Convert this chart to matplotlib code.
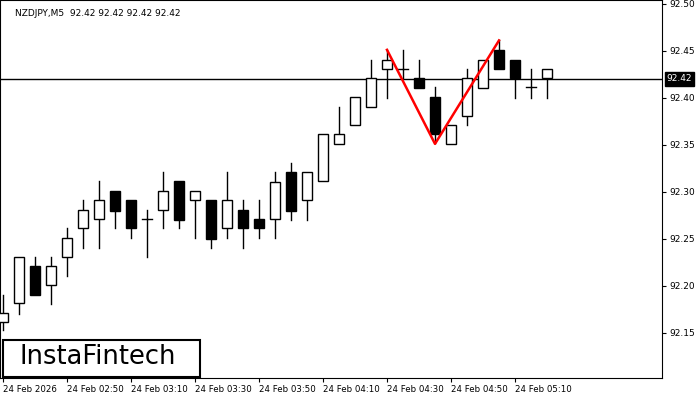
import matplotlib.pyplot as plt
from matplotlib.patches import Rectangle

opens = [92.162, 92.182, 92.221, 92.201, 92.231, 92.262, 92.271, 92.301, 92.291, 92.271,
         92.281, 92.311, 92.291, 92.291, 92.262, 92.281, 92.271, 92.271, 92.321, 92.291,
         92.311, 92.351, 92.371, 92.390, 92.431, 92.431, 92.421, 92.401, 92.351, 92.381,
         92.410, 92.451, 92.440, 92.411, 92.421]
closes = [92.171, 92.231, 92.190, 92.221, 92.251, 92.281, 92.291, 92.280, 92.261, 92.271,
          92.301, 92.270, 92.301, 92.250, 92.291, 92.261, 92.261, 92.310, 92.280, 92.321,
          92.361, 92.361, 92.401, 92.421, 92.440, 92.431, 92.410, 92.361, 92.371, 92.421,
          92.440, 92.431, 92.421, 92.411, 92.431]
highs = [92.190, 92.231, 92.231, 92.231, 92.262, 92.291, 92.311, 92.301, 92.291, 92.281,
         92.321, 92.311, 92.301, 92.291, 92.321, 92.291, 92.291, 92.321, 92.331, 92.321,
         92.361, 92.390, 92.401, 92.440, 92.451, 92.451, 92.440, 92.411, 92.371, 92.431,
         92.440, 92.461, 92.440, 92.431, 92.431]
lows = [92.153, 92.170, 92.190, 92.181, 92.211, 92.240, 92.240, 92.261, 92.251, 92.231,
        92.261, 92.261, 92.251, 92.240, 92.251, 92.240, 92.251, 92.251, 92.270, 92.270,
        92.311, 92.351, 92.371, 92.390, 92.400, 92.421, 92.410, 92.352, 92.351, 92.371,
        92.410, 92.431, 92.400, 92.400, 92.400]
pattern_idx = [24, 27, 31]
pattern_px = [92.451, 92.351, 92.461]
last_price = 92.42
yticks = [92.15, 92.20, 92.25, 92.30, 92.35, 92.40, 92.45, 92.50]
xtick_idx = [0, 4, 8, 12, 16, 20, 24, 28, 32]
xtick_labels = ["24 Feb 2026", "24 Feb 02:50", "24 Feb 03:10", "24 Feb 03:30", "24 Feb 03:50",
                "24 Feb 04:10", "24 Feb 04:30", "24 Feb 04:50", "24 Feb 05:10"]

fig = plt.figure(figsize=(7, 4), dpi=100)
ax = fig.add_axes([0, 22 / 400, 662 / 700, 378 / 400])
ax.set_xlim(-3 / 16, 659 / 16)
ax.set_ylim(92.102, 92.504)

w = 0.6
for i, (o, c, h, l) in enumerate(zip(opens, closes, highs, lows)):
    lo, hi = min(o, c), max(o, c)
    ax.plot([i, i], [hi, h], color="black", lw=1, zorder=2)
    ax.plot([i, i], [l, lo], color="black", lw=1, zorder=2)
    if abs(c - o) < 0.002:
        ax.plot([i - w / 2, i + w / 2], [c, c], color="black", lw=1, zorder=2)
    else:
        face = "white" if c > o else "black"
        ax.add_patch(Rectangle((i - w / 2, lo), w, hi - lo, facecolor=face,
                               edgecolor="black", lw=1, zorder=3))

ax.axhline(last_price, color="black", lw=1, zorder=1)
ax.plot(pattern_idx, pattern_px, color="red", lw=1.8, zorder=4)

ax.yaxis.tick_right()
ax.set_yticks(yticks)
ax.set_yticklabels([f"{v:.2f}" for v in yticks], fontsize=6.5)
ax.set_xticks(xtick_idx)
ax.set_xticklabels(xtick_labels, fontsize=6.2, ha="left")
ax.tick_params(length=3, pad=2)
ax.text(1.007, (last_price - 92.102) / (92.504 - 92.102), f"{last_price:.2f}",
        transform=ax.transAxes, fontsize=6.5, color="white", va="center", ha="left",
        bbox=dict(facecolor="black", edgecolor="black", pad=1.5))
ax.text(0.022, 0.975, "NZDJPY,M5  92.42 92.42 92.42 92.42", transform=ax.transAxes,
        fontsize=6.5, va="top")

ax.text(20 / 662, 8 / 378, "InstaFintech", transform=ax.transAxes, fontsize=18.5,
        va="bottom", ha="left", zorder=6)
ax.add_patch(Rectangle((3 / 662, 1 / 378), 197 / 662, 37 / 378, transform=ax.transAxes,
                       facecolor="white", edgecolor="black", lw=1.5, zorder=5))

fig.savefig("out.png", dpi=100)
